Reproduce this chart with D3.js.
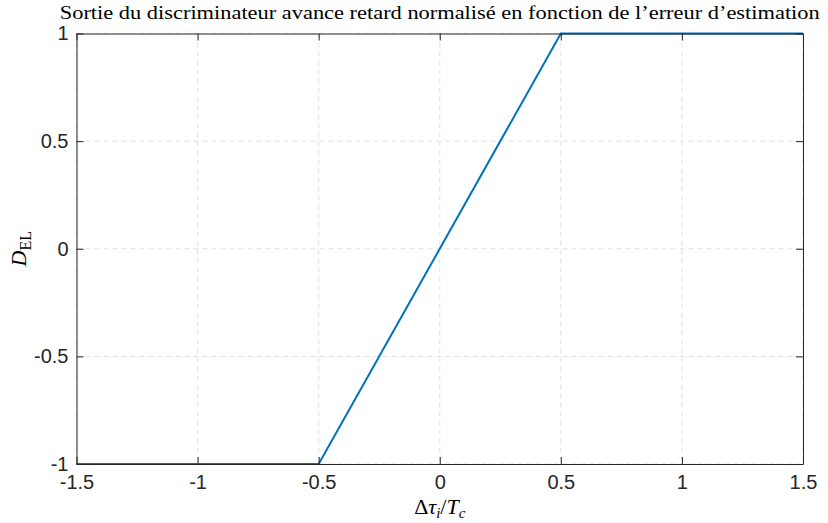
<!DOCTYPE html>
<html>
<head>
<meta charset="utf-8">
<script src="https://cdn.jsdelivr.net/npm/d3@7"></script>
<style>
  body { margin: 0; background: #fff; }
  svg { display: block; }
</style>
</head>
<body>
<div id="chart"></div>
<script>
// error values (x) and discriminator output (y)
var erreur = [-1.5, -0.5, 0.5, 1.5];
var sortie = [-1, -1, 1, 1];
var xTicks = [-1.5, -1, -0.5, 0, 0.5, 1, 1.5];
var yTicks = [-1, -0.5, 0, 0.5, 1];
var xTickLabels = ["-1.5", "-1", "-0.5", "0", "0.5", "1", "1.5"];
var yTickLabels = ["-1", "-0.5", "0", "0.5", "1"];

var W = 828, H = 523;
var m = {left: 76.5, right: 25, top: 33.5, bottom: 59};
var iw = W - m.left - m.right, ih = H - m.top - m.bottom;

var svg = d3.select("#chart").append("svg")
    .attr("width", W)
    .attr("height", H);

var g = svg.append("g")
    .attr("transform", "translate(" + m.left + "," + m.top + ")");

var x = d3.scaleLinear().domain([-1.5, 1.5]).range([0, iw]);
var y = d3.scaleLinear().domain([-1, 1]).range([ih, 0]);

// grid
g.selectAll(".gx").data(xTicks).enter().append("line")
    .attr("x1", function(d) { return x(d); })
    .attr("x2", function(d) { return x(d); })
    .attr("y1", 0).attr("y2", ih)
    .attr("stroke", "#e0e0e0").attr("stroke-dasharray", "5,4");
g.selectAll(".gy").data(yTicks).enter().append("line")
    .attr("y1", function(d) { return y(d); })
    .attr("y2", function(d) { return y(d); })
    .attr("x1", 0).attr("x2", iw)
    .attr("stroke", "#e0e0e0").attr("stroke-dasharray", "5,4");

// the curve
var line = d3.line()
    .x(function(d, i) { return x(erreur[i]); })
    .y(function(d) { return y(d); });

g.append("path")
    .datum(sortie)
    .attr("d", line)
    .attr("fill", "none")
    .attr("stroke", "#0072BD")
    .attr("stroke-width", 2);

// axes (ticks pointing inward, box on)
function styleAxis(sel) {
  sel.select(".domain").attr("stroke", "#262626");
  sel.selectAll(".tick line").attr("stroke", "#262626");
  sel.selectAll("text")
      .attr("fill", "#262626")
      .style("font-family", "'Liberation Sans', Arial, sans-serif")
      .style("font-size", "20px");
}

var xAxis = g.append("g")
    .attr("transform", "translate(0," + ih + ")")
    .call(d3.axisBottom(x).tickValues(xTicks)
      .tickFormat(function(d, i) { return xTickLabels[i]; })
      .tickSizeInner(-7).tickSizeOuter(0).tickPadding(11));
styleAxis(xAxis);

var yAxis = g.append("g")
    .call(d3.axisLeft(y).tickValues(yTicks)
      .tickFormat(function(d, i) { return yTickLabels[i]; })
      .tickSizeInner(-7).tickSizeOuter(0).tickPadding(8));
styleAxis(yAxis);

var xTop = g.append("g")
    .call(d3.axisTop(x).tickValues(xTicks).tickFormat("")
      .tickSizeInner(-7).tickSizeOuter(0));
styleAxis(xTop);

var yRight = g.append("g")
    .attr("transform", "translate(" + iw + ",0)")
    .call(d3.axisRight(y).tickValues(yTicks).tickFormat("")
      .tickSizeInner(-7).tickSizeOuter(0));
styleAxis(yRight);

// title
svg.append("text")
    .attr("x", m.left + iw / 2)
    .attr("y", 19)
    .attr("text-anchor", "middle")
    .style("font-family", "'Liberation Serif', 'DejaVu Serif', serif")
    .style("font-size", "18px")
    .attr("textLength", 760)
    .attr("lengthAdjust", "spacingAndGlyphs")
    .attr("fill", "#000")
    .text("Sortie du discriminateur avance retard normalisé en fonction de l’erreur d’estimation");

// x label
var xl = svg.append("text")
    .attr("x", m.left + iw / 2)
    .attr("y", 514)
    .attr("text-anchor", "middle")
    .style("font-family", "'Liberation Serif', 'DejaVu Serif', serif")
    .style("font-size", "22px")
    .attr("fill", "#000");
xl.append("tspan").text("Δ");
xl.append("tspan").style("font-style", "italic").text("τ");
xl.append("tspan").style("font-style", "italic").style("font-size", "15px").attr("dy", 4).text("i");
xl.append("tspan").attr("dy", -4).text("/");
xl.append("tspan").style("font-style", "italic").text("T");
xl.append("tspan").style("font-style", "italic").style("font-size", "15px").attr("dy", 4).text("c");

// y label
var yl = svg.append("text")
    .attr("transform", "translate(26," + (m.top + ih / 2) + ") rotate(-90)")
    .attr("text-anchor", "middle")
    .style("font-family", "'Liberation Serif', 'DejaVu Serif', serif")
    .style("font-size", "22px")
    .attr("fill", "#000");
yl.append("tspan").style("font-style", "italic").text("D");
yl.append("tspan").style("font-size", "16px").attr("dy", 5).text("EL");
</script>
</body>
</html>
